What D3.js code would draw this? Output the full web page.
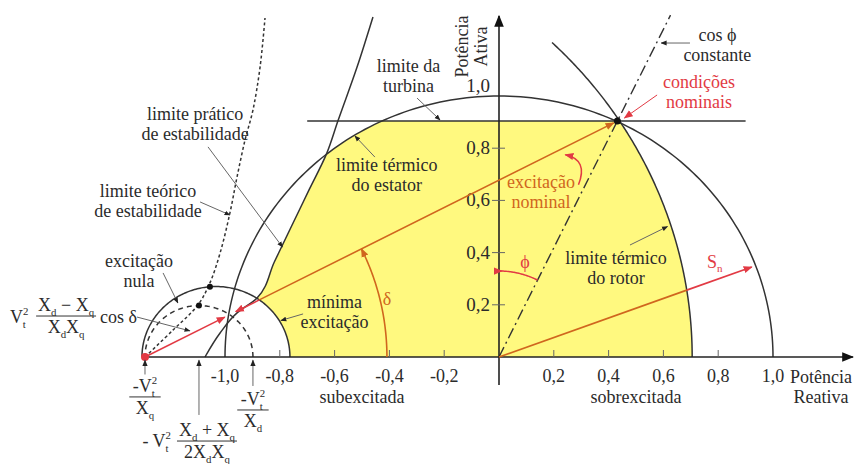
<!DOCTYPE html>
<html><head><meta charset="utf-8">
<script src="https://cdn.jsdelivr.net/npm/d3@7"></script>
<style>body{margin:0;background:#fff}svg{display:block}</style>
</head><body><svg id="c" width="855" height="464" font-family="'Liberation Serif', Tinos, 'Times New Roman', 'DejaVu Serif', serif"></svg>
<script>
// ---------------- data (per-unit) ----------------
const xTickValues = [-0.8, -0.6, -0.4, -0.2, 0.2, 0.4, 0.6, 0.8];
const xLabelValues = [-1.0, -0.8, -0.6, -0.4, -0.2, 0.2, 0.4, 0.6, 0.8, 1.0];
const xTickLabels = ["-1,0", "-0,8", "-0,6", "-0,4", "-0,2", "0,2", "0,4", "0,6", "0,8", "1,0"];
const yTickValues = [0.2, 0.4, 0.6, 0.8];
const yLabelValues = [0.2, 0.4, 0.6, 0.8, 1.0];
const yTickLabels = ["0,2", "0,4", "0,6", "0,8", "1,0"];
const statorRadius = 1.0;
const turbineLimit = 0.904;
const turbineSpan = [-0.70, 0.90];
const nominalPoint = [0.432, 0.904];
const rotorCenter = -0.97;
const rotorRadius = 1.675;
const rotorTopAngle = 46;
const minExcCenter = -1.033;
const minExcRadius = 0.27;
const vt2OverXq = -1.292;
const vt2OverXd = -0.898;
const practicalLimit = [[-1.073,0],[-1.018,0.092],[-0.956,0.169],[-0.883,0.226],[-0.820,0.364],[-0.756,0.504],[-0.692,0.643],[-0.628,0.782],[-0.588,0.904],[-0.518,1.111],[-0.460,1.303]];
const theoreticalLimit = [[-1.292,0],[-1.190,0.103],[-1.099,0.199],[-1.055,0.284],[-1.018,0.398],[-0.982,0.552],[-0.956,0.690],[-0.927,0.831],[-0.898,0.946],[-0.872,1.111],[-0.854,1.299]];
const snAngle = 20.5;
const snLength = 0.985;
const cosPhiTop = 1.31;

// ---------------- setup ----------------
const INK = "#333", RED = "#e23a44", ORANGE = "#d0661e", YELLOW = "#fff97f", GREY = "#666", TXT = "#2b2b2b";
const svg = d3.select("#c");
const x = d3.scaleLinear().domain([0, 1]).range([499, 773]);
const y = d3.scaleLinear().domain([0, 1]).range([357, 96]);
const line = d3.line().x(d => x(d[0])).y(d => y(d[1]));
const arcPts = (cq, cp, r, a0, a1, n = 160) => d3.range(n + 1).map(i => {
  const a = (a0 + (a1 - a0) * i / n) * Math.PI / 180;
  return [cq + r * Math.cos(a), cp + r * Math.sin(a)];
});
const rx = r => x(r) - x(0), ry = r => y(0) - y(r);
const defs = svg.append("defs");
function marker(id, color, size) {
  defs.append("marker").attr("id", id).attr("viewBox", "0 0 10 10").attr("refX", 9).attr("refY", 5)
    .attr("markerWidth", size).attr("markerHeight", size).attr("markerUnits", "userSpaceOnUse").attr("orient", "auto")
    .append("path").attr("d", "M0,1 L10,5 L0,9 z").attr("fill", color);
}
marker("aK", "#222", 6); marker("aR", RED, 9); marker("aO", ORANGE, 9); marker("aAx", "#111", 12); marker("aKs", "#222", 7);

// clip paths for capability region
defs.append("clipPath").attr("id", "cpS").append("ellipse")
  .attr("cx", x(0)).attr("cy", y(0)).attr("rx", rx(statorRadius)).attr("ry", ry(statorRadius));
defs.append("clipPath").attr("id", "cpR").append("ellipse")
  .attr("cx", x(rotorCenter)).attr("cy", y(0)).attr("rx", rx(rotorRadius)).attr("ry", ry(rotorRadius));
defs.append("clipPath").attr("id", "cpT").append("rect")
  .attr("x", x(-2)).attr("y", y(turbineLimit)).attr("width", x(2) - x(-2)).attr("height", y(0) - y(turbineLimit));
const pl = d3.line().x(d => x(d[0])).y(d => y(d[1])).curve(d3.curveMonotoneY);
const tlc = d3.line().x(d => x(d[0])).y(d => y(d[1])).curve(d3.curveCatmullRom);
const last = practicalLimit[practicalLimit.length - 1];
defs.append("clipPath").attr("id", "cpP").append("path")
  .attr("d", pl(practicalLimit) + `L${x(2)},${y(last[1])}L${x(2)},${y(0) + 2}L${x(practicalLimit[0][0])},${y(0) + 2}Z`);
const mk = defs.append("mask").attr("id", "mM");
mk.append("rect").attr("x", 0).attr("y", 0).attr("width", 855).attr("height", 464).attr("fill", "#fff");
mk.append("ellipse").attr("cx", x(minExcCenter)).attr("cy", y(0)).attr("rx", rx(minExcRadius)).attr("ry", ry(minExcRadius)).attr("fill", "#000");

const gY = svg.append("g").attr("clip-path", "url(#cpS)").append("g").attr("clip-path", "url(#cpR)")
  .append("g").attr("clip-path", "url(#cpT)").append("g").attr("clip-path", "url(#cpP)").append("g").attr("mask", "url(#mM)");
gY.append("rect").attr("x", x(-2)).attr("y", y(turbineLimit)).attr("width", x(2) - x(-2)).attr("height", y(0) - y(turbineLimit)).attr("fill", YELLOW);

// ---------------- curves ----------------
const curves = svg.append("g").attr("fill", "none").attr("stroke", INK).attr("stroke-width", 1.5);
curves.append("path").attr("d", line(arcPts(0, 0, statorRadius, 0, 180)));
curves.append("path").attr("d", line(arcPts(rotorCenter, 0, rotorRadius, 0, rotorTopAngle)));
curves.append("path").attr("d", line([[turbineSpan[0], turbineLimit], [turbineSpan[1], turbineLimit]]));
curves.append("path").attr("d", pl(practicalLimit));
curves.append("path").attr("d", tlc(theoreticalLimit)).attr("stroke-dasharray", "3,2.5");
curves.append("path").attr("d", line(arcPts(minExcCenter, 0, minExcRadius, 0, 180)));
const nullC = (vt2OverXq + vt2OverXd) / 2, nullR = (vt2OverXd - vt2OverXq) / 2;
curves.append("path").attr("d", line(arcPts(nullC, 0, nullR, 0, 180))).attr("stroke-dasharray", "5,4");
const cosTop = [nominalPoint[0] * cosPhiTop / nominalPoint[1], cosPhiTop];
curves.append("path").attr("d", line([[0, 0], cosTop])).attr("stroke-dasharray", "11,4,2,4").attr("stroke-width", 1.4);

// ---------------- axes ----------------
const ax = svg.append("g").attr("stroke", "#222").attr("stroke-width", 1.6);
ax.append("line").attr("x1", x(vt2OverXq)).attr("x2", 853).attr("y1", y(0)).attr("y2", y(0)).attr("marker-end", "url(#aAx)");
ax.append("line").attr("x1", x(0)).attr("x2", x(0)).attr("y1", y(-0.107)).attr("y2", 16).attr("marker-end", "url(#aAx)");
xTickValues.forEach(v => ax.append("line").attr("x1", x(v)).attr("x2", x(v)).attr("y1", y(0)).attr("y2", y(0) - 7).attr("stroke-width", 1).attr("stroke", GREY));
yTickValues.forEach(v => ax.append("line").attr("x1", x(0) - 7).attr("x2", x(0) + 6).attr("y1", y(v)).attr("y2", y(v)).attr("stroke-width", 1).attr("stroke", GREY));
const tl = svg.append("g").attr("fill", TXT);
xLabelValues.forEach((v, i) => tl.append("text").attr("font-size", 18).attr("x", x(v)).attr("y", y(0) + 25).attr("text-anchor", "middle").text(xTickLabels[i]));
yLabelValues.forEach((v, i) => tl.append("text").attr("font-size", 19).attr("x", x(0) - 9).attr("y", v === 1 ? y(v) - 4 : y(v) + 6).attr("text-anchor", "end").text(yTickLabels[i]));

// ---------------- vectors ----------------
const P0 = [vt2OverXq, 0];
const dv = [nominalPoint[0] - P0[0], nominalPoint[1] - P0[1]];
const L = Math.hypot(dv[0], dv[1]);
const u = [dv[0] / L, dv[1] / L];
const at = s => [P0[0] + u[0] * s, P0[1] + u[1] * s];
const sD1 = (vt2OverXd - vt2OverXq) * u[0];
const w0 = P0[0] - minExcCenter, wu = w0 * u[0];
const sI = -wu + Math.sqrt(wu * wu - w0 * w0 + minExcRadius * minExcRadius);
const vec = svg.append("g").attr("fill", "none").attr("stroke-width", 1.6);
vec.append("path").attr("d", line([P0, at(sD1 - 0.02)])).attr("stroke", RED).attr("marker-end", "url(#aR)");
vec.append("path").attr("d", line([at(sI), at(sD1 + 0.025)])).attr("stroke", RED).attr("marker-end", "url(#aR)");
vec.append("path").attr("d", line([at(sI), at(L - 0.015)])).attr("stroke", ORANGE).attr("marker-end", "url(#aO)");
const sv = [Math.cos(snAngle * Math.PI / 180), Math.sin(snAngle * Math.PI / 180)];
const kb = -2 * rotorCenter * sv[0];
const sRot = (-kb + Math.sqrt(kb * kb - 4 * (rotorCenter * rotorCenter - rotorRadius * rotorRadius))) / 2;
vec.append("path").attr("d", line([[0, 0], [sv[0] * sRot, sv[1] * sRot]])).attr("stroke", ORANGE);
vec.append("path").attr("d", line([[sv[0] * sRot, sv[1] * sRot], [sv[0] * snLength, sv[1] * snLength]])).attr("stroke", RED).attr("marker-end", "url(#aR)");
svg.append("circle").attr("cx", x(P0[0])).attr("cy", y(0)).attr("r", 4).attr("fill", RED);
// dots
svg.append("circle").attr("cx", x(nominalPoint[0])).attr("cy", y(nominalPoint[1])).attr("r", 3.5).attr("fill", "#111");
svg.append("circle").attr("cx", x(nullC)).attr("cy", y(nullR)).attr("r", 3).attr("fill", "#111");
const qT = theoreticalLimit[3][0];
svg.append("circle").attr("cx", x(qT)).attr("cy", y(Math.sqrt(minExcRadius ** 2 - (qT - minExcCenter) ** 2))).attr("r", 3).attr("fill", "#111");

// angle arcs (pixel space)
const P0px = [x(P0[0]), y(0)];
const angE = Math.atan2(y(0) - y(nominalPoint[1]), x(nominalPoint[0]) - x(P0[0]));
const Rd = x(-0.409) - P0px[0];
const dArc = d3.range(0, 41).map(i => { const a = angE * i / 40; return [P0px[0] + Rd * Math.cos(a), P0px[1] - Rd * Math.sin(a)]; });
svg.append("path").attr("d", d3.line()(dArc)).attr("fill", "none").attr("stroke", ORANGE).attr("stroke-width", 1.6).attr("marker-end", "url(#aO)");
const O = [x(0), y(0)];
const angC = Math.atan2(y(0) - y(cosTop[1]), x(cosTop[0]) - x(0));
const Rp = 86;
const pArc = d3.range(0, 31).map(i => { const a = angC + (Math.PI / 2 - angC) * i / 30; return [O[0] + Rp * Math.cos(a), O[1] - Rp * Math.sin(a)]; });
svg.append("path").attr("d", d3.line().curve(d3.curveBasis)(pArc.slice(0, 30).concat([[O[0] + 3, O[1] - Rp]]))).attr("fill", "none").attr("stroke", RED).attr("stroke-width", 1.5).attr("marker-end", "url(#aR)");
// excitação nominal curved arrow
const en0 = [x(0.29), y(0.66)], en1 = [x(0.242), y(0.775)];
svg.append("path").attr("d", `M${en0[0]},${en0[1]} Q${en0[0] + 10},${en0[1] - 25} ${en1[0]},${en1[1]}`).attr("fill", "none").attr("stroke", RED).attr("stroke-width", 1.5).attr("marker-end", "url(#aR)");

// ---------------- labels ----------------
const lab = svg.append("g").attr("font-size", 18).attr("text-anchor", "middle");
function label(lines, q, p, color) {
  lines.forEach((s, i) => lab.append("text").attr("x", x(q)).attr("y", y(p) + i * 20).attr("fill", color || TXT).text(s));
}
label(["cos ϕ", "constante"], 0.797, 1.211);
label(["condições", "nominais"], 0.730, 1.031, RED);
label(["limite da", "turbina"], -0.330, 1.092);
label(["limite prático", "de estabilidade"], -1.109, 0.908);
label(["limite teórico", "de estabilidade"], -1.281, 0.613);
label(["excitação", "nula"], -1.314, 0.345);
label(["limite térmico", "do estator"], -0.410, 0.713);
label(["excitação", "nominal"], 0.153, 0.647, ORANGE);
label(["limite térmico", "do rotor"], 0.427, 0.356);
label(["mínima", "excitação"], -0.600, 0.188);
label(["subexcitada"], -0.5, -0.176);
label(["sobrexcitada"], 0.5, -0.176);
label(["Potência", "Reativa"], 1.175, -0.100);
label(["δ"], -0.409, 0.199, ORANGE);
label(["ϕ"], 0.095, 0.341, RED);
lab.append("text").attr("x", x(0.787)).attr("y", y(0.341)).attr("fill", RED).text("S").append("tspan").attr("font-size", 11).attr("dy", 4).text("n");
// rotated axis title
[["Potência", -0.114], ["Ativa", -0.045]].forEach(([s, q]) => svg.append("text").attr("font-size", 18).attr("fill", TXT).attr("text-anchor", "middle")
  .attr("transform", `translate(${x(q)},${y(1.19)}) rotate(-90)`).text(s));

// pointers
const pointers = [
  [[0.697, 1.203], [0.592, 1.203], "aK", GREY],
  [[0.577, 1.004], [0.458, 0.916], "aR", RED],
  [[-0.299, 0.992], [-0.215, 0.908], "aK", GREY],
  [[-1.062, 0.805], [-0.790, 0.421], "aK", GREY],
  [[-1.091, 0.594], [-0.982, 0.544], "aK", GREY],
  [[-1.226, 0.322], [-1.172, 0.207], "aK", GREY],
  [[-1.321, 0.153], [-1.128, 0.100], "aK", GREY],
  [[-0.453, 0.766], [-0.526, 0.847], "aK", GREY],
  [[-0.715, 0.165], [-0.796, 0.140], "aK", GREY],
  [[0.478, 0.429], [0.615, 0.500], "aK", GREY]
];
pointers.forEach(([a, b, m, c]) => svg.append("path").attr("d", line([a, b])).attr("stroke", c).attr("stroke-width", 1).attr("fill", "none").attr("marker-end", `url(#${m})`));
// formula arrows
[[vt2OverXq, -0.067], [nullC, -0.222], [vt2OverXd, -0.111]].forEach(([q, p]) =>
  svg.append("path").attr("d", line([[q, p], [q, -0.012]])).attr("stroke", GREY).attr("stroke-width", 1).attr("marker-end", "url(#aKs)"));

// ---------------- formulas ----------------
const fg = svg.append("g").attr("fill", TXT);
function rich(parts, px, py, anchor, size) {
  const t = fg.append("text").attr("x", px).attr("y", py).attr("text-anchor", anchor).attr("font-size", size);
  let cur = 0;
  parts.forEach(([s, k, dx]) => {
    const off = k === "sub" ? 5 : k === "sup" ? -8 : 0;
    const ts = t.append("tspan").attr("dy", off - cur).text(s);
    if (k !== "n") ts.attr("font-size", size * 0.6);
    if (dx) ts.attr("dx", dx);
    cur = off;
  });
  return t;
}
function frac(cx, barY, num, den, size) {
  const n = rich(num, cx, barY - 5, "middle", size);
  const d = rich(den, cx, barY + 17, "middle", size);
  const w = Math.max(n.node().getComputedTextLength(), d.node().getComputedTextLength()) + 4;
  fg.append("line").attr("x1", cx - w / 2).attr("x2", cx + w / 2).attr("y1", barY).attr("y2", barY).attr("stroke", INK).attr("stroke-width", 1);
}
const VT = lead => [[lead + "V", "n"], ["2", "sup"], ["t", "sub", -5.5]];
const XdXq = [["X", "n"], ["d", "sub"], ["X", "n"], ["q", "sub"]];
frac(x(vt2OverXq), y(-0.153), VT("-"), [["X", "n"], ["q", "sub"]], 18);
frac(x(vt2OverXd), y(-0.203), VT("-"), [["X", "n"], ["d", "sub"]], 18);
rich(VT("- "), x(nullC) - 28, y(-0.345), "end", 18);
frac(x(nullC) + 8, y(-0.322), [["X", "n"], ["d", "sub"], [" + X", "n"], ["q", "sub"]], [["2X", "n"], ["d", "sub"], ["X", "n"], ["q", "sub"]], 18);
rich(VT(""), x(-1.785), y(0.13), "start", 18);
frac(x(-1.580), y(0.157), [["X", "n"], ["d", "sub"], [" − X", "n"], ["q", "sub"]], XdXq, 18);
rich([["cos δ", "n"]], x(-1.456), y(0.13), "start", 18);
</script></body></html>
